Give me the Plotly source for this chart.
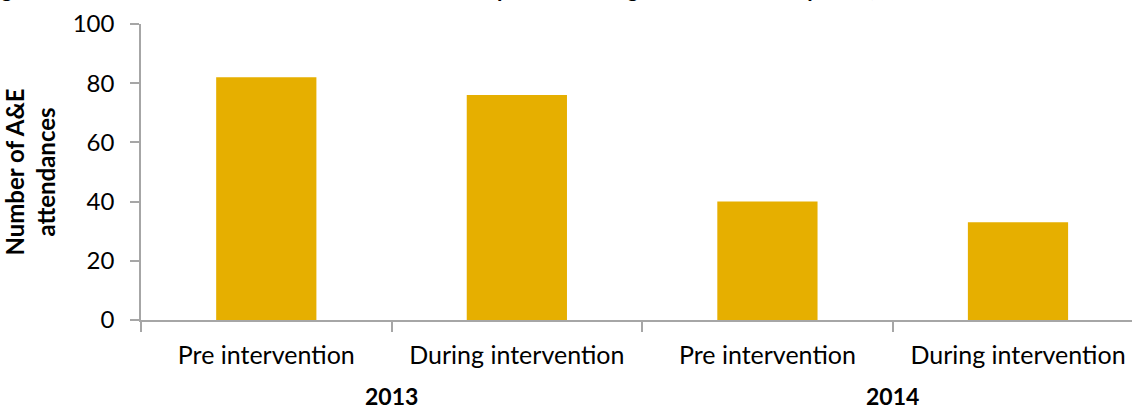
import plotly.graph_objects as go

categories = ["Pre intervention", "During intervention", "Pre intervention", "During intervention"]
years = ["2013", "2013", "2014", "2014"]
attendances = [82, 76, 40, 33]
y_ticks = [0, 20, 40, 60, 80, 100]

title_text = "Figure 3: Number of A&E attendances for the cohort pre and during the intervention period, 2013 and 2014"

FONT = "Lato, Carlito, Calibri, 'Liberation Sans', sans-serif"
AXIS_GRAY = "#A6A6A6"
BAR_COLOR = "#E6AF00"

xpos = list(range(len(categories)))

fig = go.Figure(
    go.Bar(
        x=xpos,
        y=attendances,
        marker=dict(color=BAR_COLOR, line=dict(width=0)),
        width=0.4,
        hoverinfo="y",
    )
)

# group (year) labels under the category labels
year_annotations = []
seen = []
for yr in years:
    if yr not in seen:
        seen.append(yr)
for yr in seen:
    idx = [i for i, v in enumerate(years) if v == yr]
    year_annotations.append(
        dict(
            x=sum(idx) / len(idx), y=0, xref="x", yref="paper",
            yshift=-60, yanchor="top", showarrow=False,
            text=f"<b>{yr}</b>", font=dict(family=FONT, size=23, color="#000000"),
        )
    )

boundaries = [i - 0.5 for i in xpos] + [xpos[-1] + 0.5]

fig.update_layout(
    width=1132,
    height=409,
    margin=dict(l=141, r=0, t=24, b=89),
    paper_bgcolor="white",
    plot_bgcolor="white",
    showlegend=False,
    font=dict(family=FONT, size=24, color="#000000"),
    xaxis=dict(
        range=[-0.5, 3.455],
        tickmode="array",
        tickvals=xpos,
        ticktext=categories,
        ticks="",
        ticklabelstandoff=12,
        showgrid=False,
        zeroline=False,
        showline=True,
        linecolor=AXIS_GRAY,
        linewidth=1.5,
        tickfont=dict(family=FONT, size=25, color="#000000"),
        minor=dict(tickvals=boundaries, ticks="outside", ticklen=10,
                   tickcolor=AXIS_GRAY, tickwidth=1.5, showgrid=False),
        fixedrange=True,
    ),
    yaxis=dict(
        range=[0, 100],
        tickmode="array",
        tickvals=y_ticks,
        ticks="outside",
        ticklen=9,
        tickcolor=AXIS_GRAY,
        tickwidth=1.5,
        ticklabelstandoff=11,
        showgrid=False,
        zeroline=False,
        showline=True,
        linecolor=AXIS_GRAY,
        linewidth=1.5,
        tickfont=dict(family=FONT, size=24, color="#000000"),
        title=dict(text="<b>Number of A&E<br>attendances</b>",
                   font=dict(family=FONT, size=24, color="#000000"),
                   standoff=12),
        fixedrange=True,
    ),
    annotations=year_annotations + [
        dict(
            x=0, y=1, xref="paper", yref="paper", xanchor="left", yanchor="bottom",
            xshift=-160, yshift=20, showarrow=False,
            text=f"<b>{title_text}</b>", font=dict(family=FONT, size=22, color="#000000"),
        )
    ],
)

fig.write_html("out.html")
